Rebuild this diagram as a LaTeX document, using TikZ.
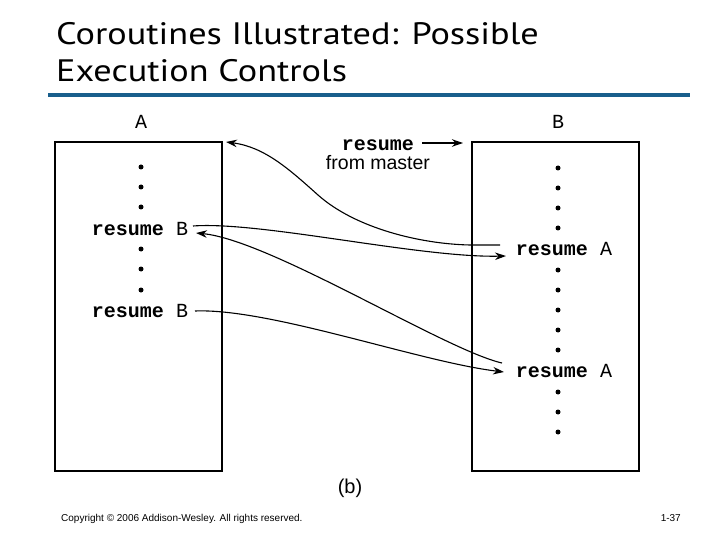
\documentclass[tikz,border=0pt]{standalone}
\usepackage{fontspec}
\setmainfont{Liberation Sans}
\setmonofont{Liberation Mono}
\newfontfamily\titlefont[FakeStretch=1.17]{PT Sans}
\usetikzlibrary{arrows.meta}
\definecolor{titleblue}{RGB}{25,95,140}
\begin{document}
\begin{tikzpicture}[x=1pt,y=-1pt,
  box/.style={draw, line width=1.6pt, minimum width=167pt, minimum height=329pt, anchor=north west, inner sep=0},
  code/.style={font=\fontsize{20}{22}\selectfont\ttfamily, inner sep=0},
  dotmark/.style={circle, fill, inner sep=0, minimum size=5pt},
  conn/.style={line width=1.1pt, -{Stealth[length=11pt,width=7.5pt]}},
  titletext/.style={font=\titlefont\fontsize{31}{36}\selectfont, anchor=base west, inner sep=0}]
\useasboundingbox (0,0) rectangle (720,540);
% title
\node[titletext] (t1) at (56,45) {Coroutines Illustrated: Possible};
\node[titletext] (t2) at (56,82) {Execution Controls};
\draw[titleblue, line width=4pt] (48,95) coordinate (bl1) -- (690,95) coordinate (bl2);
% boxes
\node[box] (boxA) at (54,141) {};
\node[box] (boxB) at (471,141) {};
\node[code] (labA) at (141,122) {A};
\node[code] (labB) at (558,122) {B};
% A contents
\foreach \y [count=\i] in {167,187,207,249,269,290} \node[dotmark] (ad\i) at (141,\y) {};
\node[code] (rB1) at (140,229) {\textbf{resume} B};
\node[code] (rB2) at (140,311) {\textbf{resume} B};
% B contents
\foreach \y [count=\i] in {168,188,208,228,270,290,310,330,350,392,412,432} \node[dotmark] (bd\i) at (558,\y) {};
\node[code] (rA1) at (564,249) {\textbf{resume} A};
\node[code] (rA2) at (564,371) {\textbf{resume} A};
% master
\node[code, font=\fontsize{20}{22}\selectfont\ttfamily\bfseries] (mres) at (378,145) {resume};
\node[font=\fontsize{19.5}{22}\selectfont, inner sep=0] (mfrom) at (378,163) {from master};
\coordinate (ms) at (422,143);
\coordinate (me) at (463,143);
\draw[conn] (ms) -- (me);
% connectors
\coordinate (c1s) at (500,245);
\coordinate (c1m) at (318,195);
\coordinate (c1e) at (226,142);
\draw[conn] (c1s) -- (470,245) .. controls (420,244) and (355,228) .. (c1m)
  .. controls (290,170) and (265,147) .. (c1e);
\coordinate (c2s) at (193,226);
\coordinate (c2e) at (506,256);
\draw[conn] (c2s) .. controls (260,221) and (420,258) .. (c2e);
\coordinate (c3s) at (502,363);
\coordinate (c3e) at (196,233);
\draw[conn] (c3s) .. controls (445,350) and (270,240) .. (c3e);
\coordinate (c4s) at (195,311);
\coordinate (c4e) at (504,372);
\draw[conn] (c4s) .. controls (270,308) and (420,362) .. (c4e);
% caption and footer
\node[font=\fontsize{20}{22}\selectfont, inner sep=0] (cap) at (350,488) {(b)};
\node[font=\fontsize{10}{12}\selectfont, anchor=base west, inner sep=0] (copy) at (61,521) {Copyright © 2006 Addison-Wesley. All rights reserved.};
\node[font=\fontsize{10}{12}\selectfont, anchor=base east, inner sep=0] (pg) at (681,521) {1-37};
\end{tikzpicture}
\end{document}
